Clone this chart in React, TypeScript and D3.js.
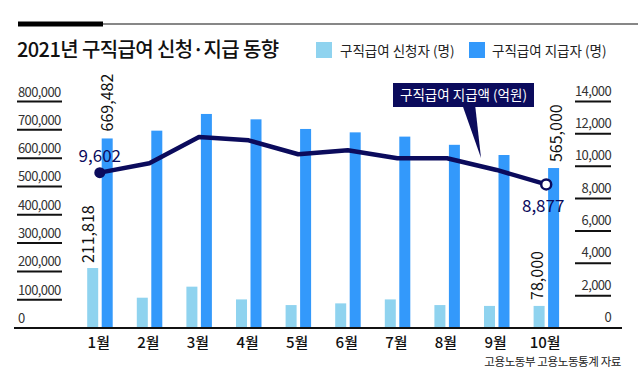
import React from "react";
import * as d3 from "d3";

const months = ["1월", "2월", "3월", "4월", "5월", "6월", "7월", "8월", "9월", "10월"];
const applicants = [211818, 107000, 146000, 101000, 81000, 87000, 101000, 81000, 78000, 78000];
const recipients = [669482, 697000, 756000, 737000, 703000, 691000, 676000, 647000, 611000, 565000];
const payments = [9602, 10180, 11800, 11600, 10740, 10990, 10490, 10490, 9770, 8877];
const leftTicks = [0, 100000, 200000, 300000, 400000, 500000, 600000, 700000, 800000];
const rightTicks = [0, 2000, 4000, 6000, 8000, 10000, 12000, 14000];

const W = 638;
const H = 378;
const FONT = "'Noto Sans CJK KR', 'Noto Sans', sans-serif";
const LIGHT = "#8fd3ef";
const BLUE = "#3399fb";
const NAVY = "#0b0b5c";

export default function App() {
  const y0 = 328;
  const yTop = 101.5;
  const x = d3.scaleBand<string>().domain(months).range([75, 571]).paddingInner(0).paddingOuter(0);
  const yL = d3.scaleLinear().domain([0, 800000]).range([y0, yTop]);
  const yR = d3.scaleLinear().domain([0, 14000]).range([y0, yTop]);
  const fmt = d3.format(",");
  const cx = (m: string) => (x(m) as number) + x.bandwidth() / 2;
  const bw = 11;
  const line = d3
    .line<number>()
    .x((_, i) => cx(months[i]))
    .y((d) => yR(d));

  const last = months.length - 1;

  return (
    <svg width={W} height={H} style={{ position: "absolute", left: 0, top: 0, background: "#fff" }} fontFamily={FONT}>
      <rect width={W} height={H} fill="#fff" />
      {/* top rule */}
      <line x1={103} x2={W} y1={24} y2={24} stroke="#111" strokeWidth={1.2} />
      <rect x={18} y={21.5} width={85} height={5} fill="#000" />
      {/* title */}
      <text x={17} y={57} fontSize={20} fontWeight={500} fill="#111" letterSpacing={-0.6}>
        2021년 구직급여 신청·지급 동향
      </text>
      {/* legend */}
      <rect x={316} y={42} width={16} height={16} fill={LIGHT} />
      <text x={340} y={55.5} fontSize={13.5} fill="#222">구직급여 신청자 (명)</text>
      <rect x={469} y={42} width={16} height={16} fill={BLUE} />
      <text x={492} y={55.5} fontSize={13.5} fill="#222">구직급여 지급자 (명)</text>

      {/* left axis */}
      {leftTicks.map((t) => (
        <g key={"l" + t}>
          <text x={18} y={yL(t) - 5} fontSize={13} fill="#333" letterSpacing={-0.6}>
            {fmt(t)}
          </text>
          {t > 0 && <line x1={17} x2={62} y1={yL(t)} y2={yL(t)} stroke="#111" strokeWidth={2} />}
        </g>
      ))}
      {/* right axis */}
      {rightTicks.map((t) => (
        <g key={"r" + t}>
          <text x={611} y={yR(t) - 6} fontSize={13} fill="#333" textAnchor="end" letterSpacing={-0.6}>
            {fmt(t)}
          </text>
          {t > 0 && <line x1={575} x2={611} y1={yR(t)} y2={yR(t)} stroke="#111" strokeWidth={2} />}
        </g>
      ))}

      {/* bars */}
      {months.map((m, i) => (
        <g key={m}>
          <rect x={cx(m) - 12.6} y={yL(applicants[i])} width={bw} height={y0 - yL(applicants[i])} fill={LIGHT} />
          <rect x={cx(m) + 1.9} y={yL(recipients[i])} width={bw} height={y0 - yL(recipients[i])} fill={BLUE} />
        </g>
      ))}

      {/* baseline */}
      <line x1={14} x2={622} y1={y0} y2={y0} stroke="#111" strokeWidth={2} />

      {/* month labels */}
      {months.map((m) => (
        <text key={"m" + m} x={cx(m) - 1} y={348} fontSize={15} fontWeight={500} textAnchor="middle" fill="#111">
          {m}
        </text>
      ))}

      {/* line */}
      <path d={line(payments) || ""} fill="none" stroke={NAVY} strokeWidth={4.5} strokeLinejoin="round" />
      <circle cx={cx(months[0])} cy={yR(payments[0])} r={5.5} fill={NAVY} />
      <circle cx={cx(months[last])} cy={yR(payments[last])} r={5} fill="#fff" stroke={NAVY} strokeWidth={2.5} />

      {/* value labels */}
      <text x={cx(months[0])} y={162} fontSize={17} textAnchor="middle" fill={NAVY}>
        {fmt(payments[0])}
      </text>
      <text x={cx(months[last]) - 3} y={212} fontSize={17} textAnchor="middle" fill={NAVY}>
        {fmt(payments[last])}
      </text>
      <text
        transform={`translate(${cx(months[0]) + 7.5},${yL(recipients[0]) - 7}) rotate(-90)`}
        dy="0.36em"
        fontSize={16}
        fill="#111"
      >
        {fmt(recipients[0])}
      </text>
      <text
        transform={`translate(${cx(months[0]) - 11.5},${yL(applicants[0]) - 5}) rotate(-90)`}
        dy="0.36em"
        fontSize={16}
        fill="#111"
      >
        {fmt(applicants[0])}
      </text>
      <text
        transform={`translate(${cx(months[last]) + 10},${yL(recipients[last]) - 6}) rotate(-90)`}
        dy="0.36em"
        fontSize={16}
        fill="#111"
      >
        {fmt(565000)}
      </text>
      <text
        transform={`translate(${cx(months[last]) - 8.5},${yL(applicants[last]) - 6}) rotate(-90)`}
        dy="0.36em"
        fontSize={16}
        fill="#111"
      >
        {fmt(applicants[last])}
      </text>

      {/* callout */}
      <path d="M462,104 L475,104 L481,158 Z" fill={NAVY} />
      <rect x={393} y={83} width={141} height={24} fill={NAVY} />
      <text x={463.5} y={100} fontSize={13.5} textAnchor="middle" fill="#fff">
        구직급여 지급액 (억원)
      </text>

      {/* source */}
      <text x={621} y={366} fontSize={11.5} textAnchor="end" fill="#222" letterSpacing={-0.4}>
        고용노동부 고용노동통계 자료
      </text>
    </svg>
  );
}
